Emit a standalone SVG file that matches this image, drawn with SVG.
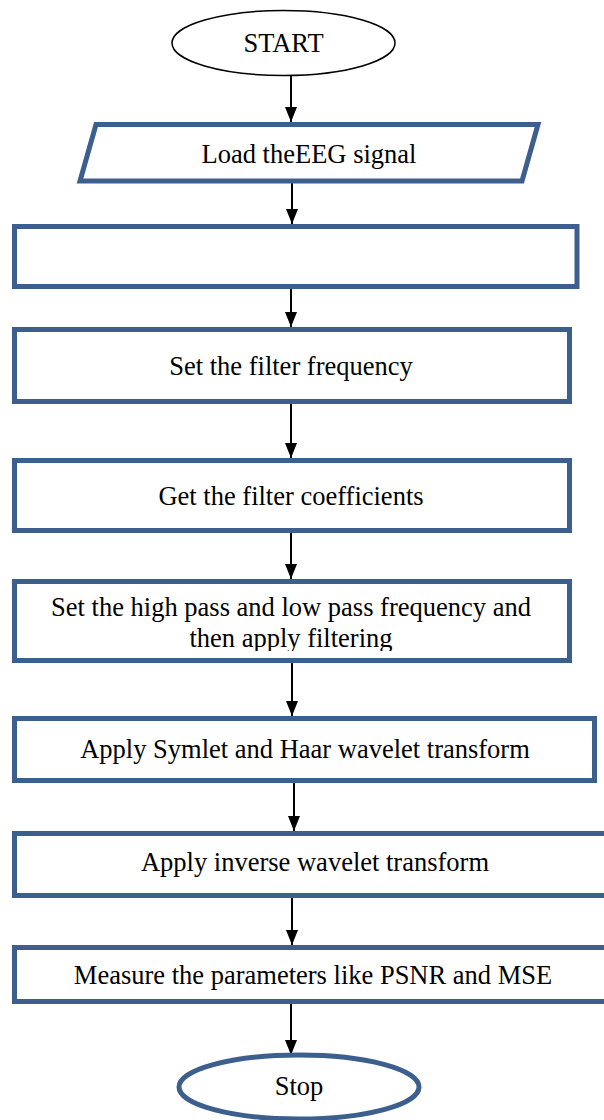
<svg xmlns="http://www.w3.org/2000/svg" width="604" height="1120" viewBox="0 0 604 1120">
<style>
.box{fill:#fff;stroke:#3C5F8D;stroke-width:5}
.term{fill:#fff;stroke:#000;stroke-width:1.5}
.t{font-family:'Liberation Serif','Times New Roman',serif;font-size:26.5px;fill:#000;text-anchor:middle}
.c{stroke:#000;stroke-width:2;fill:none;marker-end:url(#ah)}
</style>
<defs>
<marker id="ah" markerWidth="15" markerHeight="12" refX="15" refY="6" orient="auto" markerUnits="userSpaceOnUse" viewBox="0 0 15 12">
<path d="M0,0 L15,6 L0,12 Z" fill="#000"/>
</marker>
<clipPath id="clip4"><rect x="17" y="582" width="550" height="69"/></clipPath>
</defs>
<rect width="604" height="1120" fill="#fff"/>
<g id="connectors">
<line class="c" x1="291" y1="76" x2="291" y2="122"/>
<line class="c" x1="292" y1="183" x2="292" y2="224"/>
<line class="c" x1="291" y1="289" x2="291" y2="327"/>
<line class="c" x1="291" y1="404" x2="291" y2="458"/>
<line class="c" x1="291" y1="533" x2="291" y2="579"/>
<line class="c" x1="292" y1="663" x2="292" y2="716"/>
<line class="c" x1="294" y1="783" x2="294" y2="831"/>
<line class="c" x1="292" y1="898" x2="292" y2="945"/>
<line class="c" x1="291" y1="1004" x2="291" y2="1055"/>
</g>
<g id="start">
<ellipse class="term" cx="283.5" cy="43" rx="111.5" ry="32.5"/>
<text class="t" font-family="Liberation Serif, serif" x="283.5" y="52">START</text>
</g>
<g id="load">
<polygon class="box" points="96,124.5 538,124.5 522,181 80,181"/>
<text class="t" font-family="Liberation Serif, serif" x="309" y="163">Load theEEG signal</text>
</g>
<g id="empty">
<rect class="box" x="14.5" y="226.5" width="562.5" height="60"/>
</g>
<g id="setfreq">
<rect class="box" x="14.5" y="329.5" width="555" height="72"/>
<text class="t" font-family="Liberation Serif, serif" x="291" y="375">Set the filter frequency</text>
</g>
<g id="coeff">
<rect class="box" x="14.5" y="460.5" width="555" height="70"/>
<text class="t" font-family="Liberation Serif, serif" x="291" y="505">Get the filter coefficients</text>
</g>
<g id="hlpass">
<rect class="box" x="14.5" y="581.5" width="555" height="79"/>
<g clip-path="url(#clip4)">
<text class="t" font-family="Liberation Serif, serif" x="291" y="616">Set the high pass and low pass frequency and</text>
<text class="t" font-family="Liberation Serif, serif" x="291" y="647">then apply filtering</text>
</g>
</g>
<g id="symlet">
<rect class="box" x="14.5" y="718.5" width="580" height="62"/>
<text class="t" font-family="Liberation Serif, serif" x="305" y="758">Apply Symlet and Haar wavelet transform</text>
</g>
<g id="inverse">
<rect class="box" x="14.5" y="833.5" width="600" height="62"/>
<text class="t" font-family="Liberation Serif, serif" x="315" y="871">Apply inverse wavelet transform</text>
</g>
<g id="measure">
<rect class="box" x="14.5" y="947.5" width="600" height="54"/>
<text class="t" font-family="Liberation Serif, serif" x="313" y="984">Measure the parameters like PSNR and MSE</text>
</g>
<g id="stop">
<ellipse class="box" cx="299" cy="1087" rx="120" ry="32"/>
<text class="t" font-family="Liberation Serif, serif" x="299" y="1095">Stop</text>
</g>
</svg>
